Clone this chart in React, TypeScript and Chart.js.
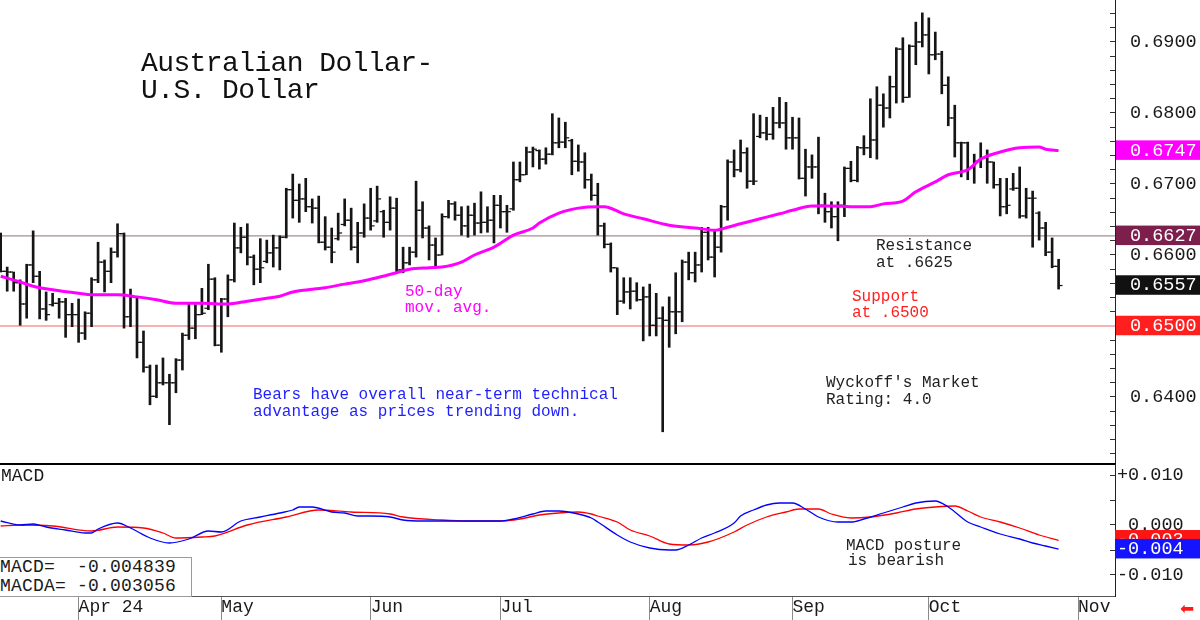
import React, { useEffect, useRef } from "react";
import { Chart, registerables } from "chart.js";

Chart.register(...registerables);

// ---------- price bars (one per trading day, index 0 = first bar) ----------
const highs = [
  0.6631, 0.6583, 0.6576, 0.6565, 0.6587, 0.6634, 0.6577, 0.6548, 0.6546, 0.6539,
  0.6539, 0.6532, 0.6538, 0.6520, 0.6568, 0.6618, 0.6593, 0.6610, 0.6644, 0.6631,
  0.6552, 0.6541, 0.6493, 0.6445, 0.6445, 0.6455, 0.6432, 0.6454, 0.6490, 0.6531,
  0.6530, 0.6553, 0.6587, 0.6568, 0.6539, 0.6572, 0.6645, 0.6639, 0.6644, 0.6600,
  0.6623, 0.6621, 0.6628, 0.6627, 0.6694, 0.6714, 0.6700, 0.6708, 0.6679, 0.6683,
  0.6654, 0.6638, 0.6659, 0.6679, 0.6666, 0.6646, 0.6672, 0.6694, 0.6697, 0.6663,
  0.6682, 0.6680, 0.6611, 0.6611, 0.6704, 0.6675, 0.6641, 0.6624, 0.6658, 0.6677,
  0.6675, 0.6668, 0.6669, 0.6673, 0.6689, 0.6668, 0.6684, 0.6684, 0.6670, 0.6731,
  0.6731, 0.6752, 0.6752, 0.6748, 0.6751, 0.6799, 0.6793, 0.6787, 0.6763, 0.6755,
  0.6744, 0.6714, 0.6701, 0.6645, 0.6617, 0.6582, 0.6568, 0.6568, 0.6561, 0.6555,
  0.6559, 0.6546, 0.6527, 0.6541, 0.6575, 0.6593, 0.6604, 0.6604, 0.6639, 0.6639,
  0.6635, 0.6670, 0.6734, 0.6748, 0.6762, 0.6751, 0.6799, 0.6797, 0.6794, 0.6808,
  0.6822, 0.6815, 0.6794, 0.6793, 0.6749, 0.6741, 0.6766, 0.6687, 0.6675, 0.6675,
  0.6724, 0.6732, 0.6753, 0.6768, 0.6820, 0.6837, 0.6827, 0.6852, 0.6892, 0.6906,
  0.6896, 0.6928, 0.6941, 0.6934, 0.6914, 0.6887, 0.6851, 0.6811, 0.6759, 0.6759,
  0.6742, 0.6758, 0.6748, 0.6731, 0.6708, 0.6708, 0.6715, 0.6724, 0.6694, 0.6690,
  0.6661, 0.6646, 0.6624, 0.6594,
];
const lows = [
  0.6576, 0.6549, 0.6549, 0.6501, 0.6511, 0.6561, 0.6510, 0.6508, 0.6528, 0.6511,
  0.6484, 0.6499, 0.6477, 0.6481, 0.6499, 0.6561, 0.6548, 0.6561, 0.6597, 0.6497,
  0.6499, 0.6455, 0.6435, 0.6389, 0.6399, 0.6417, 0.6361, 0.6406, 0.6438, 0.6481,
  0.6482, 0.6516, 0.6523, 0.6472, 0.6463, 0.6513, 0.6562, 0.6603, 0.6586, 0.6558,
  0.6561, 0.6589, 0.6583, 0.6579, 0.6624, 0.6652, 0.6646, 0.6661, 0.6645, 0.6617,
  0.6607, 0.6589, 0.6621, 0.6641, 0.6607, 0.6589, 0.6625, 0.6635, 0.6646, 0.6625,
  0.6635, 0.6576, 0.6575, 0.6586, 0.6597, 0.6624, 0.6593, 0.6582, 0.6600, 0.6652,
  0.6649, 0.6628, 0.6625, 0.6628, 0.6631, 0.6632, 0.6617, 0.6638, 0.6632, 0.6663,
  0.6703, 0.6713, 0.6724, 0.6721, 0.6728, 0.6741, 0.6751, 0.6751, 0.6713, 0.6718,
  0.6694, 0.6677, 0.6628, 0.6610, 0.6576, 0.6516, 0.6532, 0.6524, 0.6535, 0.6479,
  0.6486, 0.6486, 0.6351, 0.6470, 0.6489, 0.6506, 0.6565, 0.6562, 0.6576, 0.6593,
  0.6569, 0.6604, 0.6649, 0.6710, 0.6717, 0.6694, 0.6699, 0.6765, 0.6762, 0.6763,
  0.6779, 0.6749, 0.6749, 0.6707, 0.6683, 0.6708, 0.6658, 0.6646, 0.6638, 0.6620,
  0.6654, 0.6703, 0.6703, 0.6741, 0.6737, 0.6735, 0.6780, 0.6793, 0.6814, 0.6815,
  0.6822, 0.6868, 0.6893, 0.6855, 0.6875, 0.6827, 0.6782, 0.6738, 0.6710, 0.6706,
  0.6701, 0.6723, 0.6701, 0.6694, 0.6655, 0.6658, 0.6691, 0.6652, 0.6652, 0.6611,
  0.6621, 0.6599, 0.6582, 0.6552,
];
const closes = [
  0.6577, 0.6576, 0.6561, 0.6531, 0.6586, 0.6570, 0.6524, 0.6516, 0.6532, 0.6534,
  0.6516, 0.6516, 0.6490, 0.6518, 0.6565, 0.6590, 0.6577, 0.6604, 0.6630, 0.6513,
  0.6541, 0.6477, 0.6442, 0.6401, 0.6420, 0.6420, 0.6420, 0.6452, 0.6487, 0.6497,
  0.6516, 0.6518, 0.6566, 0.6473, 0.6538, 0.6565, 0.6610, 0.6625, 0.6597, 0.6580,
  0.6582, 0.6603, 0.6610, 0.6625, 0.6692, 0.6677, 0.6679, 0.6668, 0.6666, 0.6618,
  0.6611, 0.6604, 0.6631, 0.6649, 0.6611, 0.6631, 0.6652, 0.6641, 0.6679, 0.6646,
  0.6666, 0.6579, 0.6589, 0.6604, 0.6663, 0.6638, 0.6614, 0.6600, 0.6654, 0.6672,
  0.6656, 0.6641, 0.6656, 0.6645, 0.6646, 0.6649, 0.6670, 0.6661, 0.6661, 0.6706,
  0.6713, 0.6745, 0.6749, 0.6735, 0.6742, 0.6758, 0.6759, 0.6765, 0.6732, 0.6731,
  0.6706, 0.6684, 0.6641, 0.6615, 0.6582, 0.6535, 0.6548, 0.6549, 0.6537, 0.6541,
  0.6501, 0.6511, 0.6508, 0.6520, 0.6520, 0.6590, 0.6575, 0.6586, 0.6632, 0.6597,
  0.6611, 0.6668, 0.6731, 0.6720, 0.6744, 0.6704, 0.6704, 0.6772, 0.6770, 0.6786,
  0.6786, 0.6765, 0.6765, 0.6708, 0.6724, 0.6724, 0.6670, 0.6661, 0.6654, 0.6670,
  0.6722, 0.6705, 0.6751, 0.6751, 0.6762, 0.6811, 0.6807, 0.6837, 0.6890, 0.6822,
  0.6894, 0.6900, 0.6910, 0.6882, 0.6883, 0.6839, 0.6793, 0.6758, 0.6758, 0.6723,
  0.6732, 0.6737, 0.6731, 0.6699, 0.6668, 0.6670, 0.6694, 0.6655, 0.6680, 0.6680,
  0.6638, 0.6604, 0.6584, 0.6557,
];
const opens = [
  0.6600, 0.6577, 0.6576, 0.6561, 0.6531, 0.6586, 0.6570, 0.6524, 0.6530, 0.6532,
  0.6534, 0.6516, 0.6516, 0.6490, 0.6518, 0.6565, 0.6590, 0.6577, 0.6604, 0.6630,
  0.6513, 0.6541, 0.6477, 0.6442, 0.6401, 0.6420, 0.6420, 0.6420, 0.6452, 0.6487,
  0.6497, 0.6516, 0.6525, 0.6566, 0.6473, 0.6538, 0.6565, 0.6610, 0.6625, 0.6597,
  0.6580, 0.6591, 0.6603, 0.6610, 0.6625, 0.6692, 0.6677, 0.6679, 0.6668, 0.6666,
  0.6618, 0.6611, 0.6623, 0.6643, 0.6649, 0.6611, 0.6631, 0.6652, 0.6648, 0.6661,
  0.6646, 0.6666, 0.6579, 0.6589, 0.6604, 0.6663, 0.6638, 0.6614, 0.6600, 0.6654,
  0.6672, 0.6656, 0.6641, 0.6656, 0.6645, 0.6646, 0.6649, 0.6670, 0.6661, 0.6665,
  0.6706, 0.6713, 0.6745, 0.6747, 0.6735, 0.6742, 0.6758, 0.6759, 0.6761, 0.6732,
  0.6731, 0.6706, 0.6684, 0.6641, 0.6615, 0.6582, 0.6535, 0.6548, 0.6549, 0.6537,
  0.6541, 0.6501, 0.6511, 0.6508, 0.6520, 0.6520, 0.6590, 0.6575, 0.6586, 0.6632,
  0.6597, 0.6611, 0.6668, 0.6731, 0.6720, 0.6744, 0.6704, 0.6767, 0.6772, 0.6770,
  0.6786, 0.6786, 0.6765, 0.6765, 0.6708, 0.6724, 0.6724, 0.6670, 0.6661, 0.6654,
  0.6670, 0.6722, 0.6705, 0.6751, 0.6751, 0.6762, 0.6811, 0.6807, 0.6837, 0.6890,
  0.6822, 0.6894, 0.6900, 0.6910, 0.6882, 0.6883, 0.6839, 0.6793, 0.6758, 0.6758,
  0.6723, 0.6732, 0.6737, 0.6731, 0.6699, 0.6668, 0.6693, 0.6694, 0.6655, 0.6680,
  0.6659, 0.6638, 0.6604, 0.6584,
];

// ---------- 50-day moving average (bar index, value) ----------
const maIndex = [
  0, 3, 5, 8, 12, 14, 18, 21, 24, 27, 31, 35, 38, 41, 43, 45, 50, 53, 55, 58,
  61, 63, 66, 68, 71, 73, 76, 79, 82, 83, 86, 89, 92, 93, 96, 99, 103, 107, 110, 112,
  114, 117, 120, 122, 125, 128, 131, 134, 136, 139, 141, 144, 146, 149, 151, 154, 157, 160, 161, 163,
];
const maValues = [
  0.6570, 0.6562, 0.6556, 0.6551, 0.6546, 0.6544, 0.6544, 0.6541, 0.6537, 0.6532,
  0.6532, 0.6531, 0.6535, 0.6539, 0.6542, 0.6548, 0.6554, 0.6559, 0.6562, 0.6568,
  0.6575, 0.6580, 0.6582, 0.6583, 0.6590, 0.6600, 0.6611, 0.6628, 0.6638, 0.6645,
  0.6659, 0.6666, 0.6668, 0.6668, 0.6658, 0.6651, 0.6642, 0.6638, 0.6635, 0.6639,
  0.6644, 0.6651, 0.6658, 0.6663, 0.6669, 0.6669, 0.6668, 0.6668, 0.6672, 0.6676,
  0.6689, 0.6703, 0.6713, 0.6720, 0.6735, 0.6745, 0.6751, 0.6752, 0.6749, 0.6747,
];

// ---------- MACD (blue) and MACDA signal (red) ----------
const macdIndex = [
  0, 3, 5, 7, 10, 13, 14, 15, 18, 20, 23, 26, 29, 32, 34, 37, 40, 43, 45, 46,
  48, 51, 53, 55, 57, 60, 62, 65, 68, 72, 77, 79, 82, 84, 86, 89, 91, 92, 95, 97,
  100, 103, 104, 106, 108, 110, 113, 114, 116, 118, 120, 122, 124, 126, 129, 131, 133, 136, 139, 141,
  144, 146, 149, 151, 154, 157, 159, 161, 163,
];
const macdValues = [
  0.0008, 0.0000, 0.0002, -0.0004, -0.0010, -0.0016, -0.0016, -0.0008, 0.0004, -0.0006,
  -0.0026, -0.0036, -0.0028, -0.0012, -0.0014, 0.0008, 0.0016, 0.0024, 0.0030, 0.0036,
  0.0036, 0.0026, 0.0024, 0.0018, 0.0018, 0.0016, 0.0010, 0.0008, 0.0008, 0.0008,
  0.0008, 0.0012, 0.0022, 0.0028, 0.0028, 0.0022, 0.0014, 0.0006, -0.0020, -0.0034,
  -0.0046, -0.0050, -0.0050, -0.0040, -0.0026, -0.0016, 0.0004, 0.0018, 0.0030, 0.0040,
  0.0044, 0.0044, 0.0032, 0.0016, 0.0006, 0.0006, 0.0012, 0.0024, 0.0036, 0.0044,
  0.0048, 0.0036, 0.0006, -0.0004, -0.0018, -0.0028, -0.0036, -0.0042, -0.004839,
];
const signalIndex = [
  0, 3, 8, 14, 18, 22, 25, 27, 31, 33, 38, 44, 49, 54, 60, 62, 68, 72, 77, 80,
  83, 86, 89, 91, 92, 95, 97, 100, 103, 106, 109, 113, 115, 118, 121, 123, 126, 128, 131, 134,
  138, 141, 144, 147, 149, 151, 154, 157, 160, 163,
];
const signalValues = [
  -0.0002, 0.0000, -0.0002, -0.0012, -0.0004, -0.0006, -0.0016, -0.0026, -0.0024, -0.0022,
  0.0000, 0.0016, 0.0030, 0.0026, 0.0022, 0.0016, 0.0010, 0.0008, 0.0008, 0.0012,
  0.0020, 0.0024, 0.0026, 0.0022, 0.0018, 0.0006, -0.0010, -0.0022, -0.0038, -0.0040,
  -0.0034, -0.0014, 0.0000, 0.0016, 0.0026, 0.0032, 0.0032, 0.0022, 0.0014, 0.0016,
  0.0024, 0.0032, 0.0036, 0.0038, 0.0028, 0.0016, 0.0006, -0.0006, -0.0020, -0.003056,
];

// ---------- axes ----------
const monthLabels = ["Apr 24", "May", "Jun", "Jul", "Aug", "Sep", "Oct", "Nov"];
const monthIndex = [12, 34, 57, 77, 100, 122, 143, 166];
const priceLabelTicks = [0.64, 0.66, 0.67, 0.68, 0.69];
const macdLabelTicks = [0.01, 0, -0.01];

const RESISTANCE = 0.6627;
const SUPPORT = 0.65;
const MA_LAST = maValues[maValues.length - 1];
const LAST_CLOSE = closes[closes.length - 1];
const MACD_LAST = macdValues[macdValues.length - 1];
const MACDA_LAST = signalValues[signalValues.length - 1];

const X_MIN = -0.108;
const X_MAX = 171.69;
const PRICE_MIN = 0.630563;
const PRICE_MAX = 0.695915;
const MACD_MIN = -0.0142;
const MACD_MAX = 0.0122;
const TICK_OFF = 0.36;

const FONT = "'Liberation Mono', 'DejaVu Sans Mono', monospace";
const CLEAR = "rgba(0,0,0,0)";

const same = (a: number, b: number) => Math.abs(a - b) < 1e-9;
const trunc3 = (v: number) => {
  const t = Math.trunc(v * 1000) / 1000;
  return (t < 0 || Object.is(t, -0) ? "-" : "") + Math.abs(t).toFixed(3);
};

function priceConfig(): any {
  const specials = [
    { value: MA_LAST, text: MA_LAST.toFixed(4), bg: "#ff00ff" },
    { value: RESISTANCE, text: RESISTANCE.toFixed(4), bg: "#7c1f4c" },
    { value: LAST_CLOSE, text: LAST_CLOSE.toFixed(4), bg: "#111111" },
    { value: SUPPORT, text: SUPPORT.toFixed(4), bg: "#ff1f1f" },
  ];
  return {
    type: "bar",
    data: {
      datasets: [
        {
          type: "line",
          label: "50-day",
          data: maIndex.map((x, k) => ({ x, y: maValues[k] })),
          borderColor: "#ff00ff",
          borderWidth: 3,
          pointRadius: 0,
          cubicInterpolationMode: "monotone",
          order: 0,
        },
        {
          type: "scatter",
          label: "close",
          data: closes.map((c, i) => ({ x: i + TICK_OFF, y: c })),
          pointStyle: "line",
          pointRadius: 1.6,
          borderColor: "#111",
          pointBorderColor: "#111",
          borderWidth: 1.2,
          pointBorderWidth: 1.2,
          order: 1,
        },
        {
          type: "scatter",
          label: "open",
          data: opens.map((o, i) => ({ x: i - TICK_OFF, y: o })),
          pointStyle: "line",
          pointRadius: 1.6,
          borderColor: "#111",
          pointBorderColor: "#111",
          borderWidth: 1.2,
          pointBorderWidth: 1.2,
          order: 1,
        },
        {
          type: "bar",
          label: "range",
          data: highs.map((h, i) => ({ x: i, y: [lows[i], h] })),
          backgroundColor: "#151515",
          borderWidth: 0,
          barThickness: 2,
          grouped: false,
          order: 2,
        },
        {
          type: "line",
          label: "resistance",
          data: [
            { x: X_MIN, y: RESISTANCE },
            { x: X_MAX, y: RESISTANCE },
          ],
          borderColor: "#a88a94",
          borderWidth: 1.2,
          pointRadius: 0,
          order: 3,
        },
        {
          type: "line",
          label: "support",
          data: [
            { x: X_MIN, y: SUPPORT },
            { x: X_MAX, y: SUPPORT },
          ],
          borderColor: "#f29a9a",
          borderWidth: 1.5,
          pointRadius: 0,
          order: 3,
        },
      ],
    },
    options: {
      responsive: false,
      animation: false,
      events: [],
      layout: { padding: 0, autoPadding: false },
      plugins: { legend: { display: false }, tooltip: { enabled: false }, title: { display: false } },
      scales: {
        x: {
          type: "linear",
          min: X_MIN,
          max: X_MAX,
          offset: false,
          display: false,
          grid: { offset: false },
        },
        y: {
          type: "linear",
          position: "right",
          min: PRICE_MIN,
          max: PRICE_MAX,
          bounds: "data",
          afterBuildTicks: (scale: any) => {
            const t: any[] = [];
            for (let k = 316; k <= 347; k++) {
              const v = k / 500;
              if (same(v, SUPPORT)) continue;
              const labeled = priceLabelTicks.some((p) => same(p, v));
              t.push({ value: v, text: labeled ? v.toFixed(4) : "" });
            }
            specials.forEach((s) => t.push({ value: s.value, text: s.text, bg: s.bg }));
            scale.ticks = t;
          },
          afterFit: (scale: any) => {
            scale.width = 85;
            scale.paddingTop = 0;
            scale.paddingBottom = 0;
          },
          ticks: {
            autoSkip: false,
            callback: (_v: any, i: number, ticks: any[]) => ticks[i].text,
            font: { family: FONT, size: 18.5, lineHeight: 1 },
            color: (ctx: any) => (ctx.tick && ctx.tick.bg ? "#ffffff" : "#1a1a1a"),
            padding: 20,
            showLabelBackdrop: true,
            backdropColor: (ctx: any) => (ctx.tick && ctx.tick.bg) || CLEAR,
            backdropPadding: { top: 1, bottom: 0, left: 14, right: 4 },
          },
          grid: {
            drawOnChartArea: false,
            drawTicks: true,
            tickLength: -5,
            color: "#333",
            tickColor: (ctx: any) => (ctx.tick && ctx.tick.bg ? CLEAR : "#333"),
          },
          border: { display: true, color: "#222", width: 1 },
        },
      },
    },
  };
}

function macdConfig(): any {
  const specials = [
    { value: MACDA_LAST, text: trunc3(MACDA_LAST), bg: "#ff1414" },
    { value: MACD_LAST, text: trunc3(MACD_LAST), bg: "#1414ff" },
  ];
  const fmt = (v: number) => (v > 0 ? "+" + v.toFixed(3) : v < 0 ? v.toFixed(3) : " " + v.toFixed(3));
  return {
    type: "line",
    data: {
      datasets: [
        {
          label: "MACD",
          data: macdIndex.map((x, k) => ({ x, y: macdValues[k] })),
          borderColor: "#0000ff",
          borderWidth: 1.3,
          pointRadius: 0,
          cubicInterpolationMode: "monotone",
          order: 0,
        },
        {
          label: "MACDA",
          data: signalIndex.map((x, k) => ({ x, y: signalValues[k] })),
          borderColor: "#ff0000",
          borderWidth: 1.3,
          pointRadius: 0,
          cubicInterpolationMode: "monotone",
          order: 1,
        },
      ],
    },
    options: {
      responsive: false,
      animation: false,
      events: [],
      layout: { padding: 0, autoPadding: false },
      plugins: { legend: { display: false }, tooltip: { enabled: false }, title: { display: false } },
      scales: {
        x: {
          type: "linear",
          position: "bottom",
          min: X_MIN,
          max: X_MAX,
          bounds: "data",
          offset: false,
          afterBuildTicks: (scale: any) => {
            scale.ticks = monthIndex.map((v, k) => ({ value: v, text: monthLabels[k] }));
          },
          afterFit: (scale: any) => {
            scale.height = 24;
            scale.paddingLeft = 0;
            scale.paddingRight = 0;
          },
          ticks: {
            autoSkip: false,
            maxRotation: 0,
            minRotation: 0,
            align: "start",
            padding: -22,
            callback: (_v: any, i: number, ticks: any[]) => ticks[i].text,
            font: { family: FONT, size: 18, lineHeight: 1 },
            color: "#1a1a1a",
          },
          grid: {
            offset: false,
            drawOnChartArea: false,
            drawTicks: true,
            tickLength: 24,
            color: "#8a8a8a",
            tickColor: "#8a8a8a",
          },
          border: { display: true, color: "#555", width: 1 },
        },
        x2: {
          type: "linear",
          position: "top",
          min: X_MIN,
          max: X_MAX,
          afterFit: (scale: any) => {
            scale.height = 1;
            scale.paddingLeft = 0;
            scale.paddingRight = 0;
          },
          ticks: { display: false },
          grid: { drawOnChartArea: false, drawTicks: false },
          border: { display: true, color: "#000", width: 2 },
        },
        y: {
          type: "linear",
          position: "right",
          min: MACD_MIN,
          max: MACD_MAX,
          bounds: "data",
          afterBuildTicks: (scale: any) => {
            const t: any[] = [];
            for (let k = -2; k <= 2; k++) {
              const v = k * 0.005;
              const labeled = macdLabelTicks.some((p) => same(p, v));
              t.push({ value: v, text: labeled ? fmt(v) : "" });
            }
            specials.forEach((s) => t.push({ value: s.value, text: s.text, bg: s.bg }));
            scale.ticks = t;
          },
          afterFit: (scale: any) => {
            scale.width = 85;
            scale.paddingTop = 0;
            scale.paddingBottom = 0;
          },
          ticks: {
            autoSkip: false,
            callback: (_v: any, i: number, ticks: any[]) => ticks[i].text,
            font: { family: FONT, size: 18.5, lineHeight: 1 },
            color: (ctx: any) => (ctx.tick && ctx.tick.bg ? "#ffffff" : "#1a1a1a"),
            padding: 7,
            showLabelBackdrop: true,
            backdropColor: (ctx: any) => (ctx.tick && ctx.tick.bg) || CLEAR,
            backdropPadding: { top: 1, bottom: 0, left: 2, right: 17 },
          },
          grid: {
            drawOnChartArea: false,
            drawTicks: true,
            tickLength: -5,
            color: "#333",
            tickColor: (ctx: any) => (ctx.tick && ctx.tick.bg ? CLEAR : "#333"),
          },
          border: { display: true, color: "#222", width: 1 },
        },
      },
    },
  };
}

type TxtProps = {
  left: number;
  top: number;
  lines: string[];
  size?: number;
  lh?: number;
  color?: string;
  spacing?: number;
  family?: string;
};

function Txt({ left, top, lines, size = 16, lh = 17, color = "#1a1a1a", spacing = 0, family = FONT }: TxtProps) {
  return (
    <div
      style={{
        position: "absolute",
        left,
        top,
        fontFamily: family,
        fontSize: size,
        lineHeight: lh + "px",
        color,
        letterSpacing: spacing,
        whiteSpace: "pre",
        pointerEvents: "none",
      }}
    >
      {lines.map((l, i) => (
        <div key={i}>{l}</div>
      ))}
    </div>
  );
}

export default function App() {
  const priceRef = useRef<HTMLCanvasElement>(null);
  const macdRef = useRef<HTMLCanvasElement>(null);

  useEffect(() => {
    const c1 = new Chart(priceRef.current as HTMLCanvasElement, priceConfig());
    const c2 = new Chart(macdRef.current as HTMLCanvasElement, macdConfig());
    return () => {
      c1.destroy();
      c2.destroy();
    };
  }, []);

  return (
    <div
      style={{
        position: "absolute",
        left: 0,
        top: 0,
        width: 1200,
        height: 620,
        background: "#ffffff",
        overflow: "hidden",
      }}
    >
      <canvas ref={priceRef} width={1200} height={464} style={{ position: "absolute", left: 0, top: 0 }} />
      <canvas ref={macdRef} width={1200} height={157} style={{ position: "absolute", left: 0, top: 463 }} />

      <Txt left={141} top={50} size={28} lh={27} spacing={-0.6} color="#111" lines={["Australian Dollar-", "U.S. Dollar"]} />
      <Txt left={405} top={283.5} lh={16} color="#ff00ff" lines={["50-day", "mov. avg."]} />
      <Txt left={876} top={238} lh={17} color="#222" lines={["Resistance", "at .6625"]} />
      <Txt left={852} top={288.5} lh={16} color="#ff1f1f" lines={["Support", "at .6500"]} />
      <Txt
        left={253}
        top={387}
        lh={16.5}
        color="#1f1fff"
        lines={["Bears have overall near-term technical", "advantage as prices trending down."]}
      />
      <Txt left={826} top={375} lh={17} color="#222" lines={["Wyckoff's Market", "Rating: 4.0"]} />
      <Txt left={1} top={466} size={18} lh={20} color="#1a1a1a" lines={["MACD"]} />
      <Txt left={846} top={538.5} lh={15} color="#222" lines={["MACD posture"]} />
      <Txt left={848} top={553.5} lh={15} color="#222" lines={["is bearish"]} />

      <div
        style={{
          position: "absolute",
          left: -1,
          top: 557,
          width: 191,
          height: 38,
          border: "1px solid #9a9a9a",
          background: "#ffffff",
          pointerEvents: "none",
        }}
      />
      <Txt
        left={0}
        top={557.5}
        size={18}
        lh={19}
        spacing={0.2}
        color="#1a1a1a"
        lines={["MACD=  " + MACD_LAST.toFixed(6), "MACDA= " + MACDA_LAST.toFixed(6)]}
      />
      <Txt left={1180} top={598} size={17} lh={20} color="#ff1a1a" family="'DejaVu Sans', sans-serif" lines={["\u2B05"]} />
    </div>
  );
}
